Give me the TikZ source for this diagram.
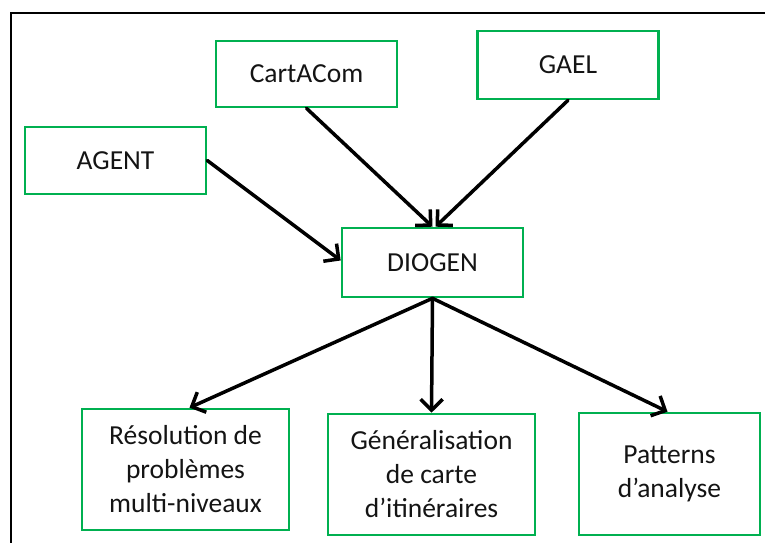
\documentclass[tikz,border=0pt]{standalone}
\usepackage{fontspec}
\setmainfont{Carlito}
\usepackage{xcolor}
\usepackage{tikz}
\usetikzlibrary{arrows.meta,positioning}
\definecolor{boxgreen}{RGB}{0,176,80}
\definecolor{txtblack}{RGB}{20,20,20}
\tikzset{
  blk/.style={draw=boxgreen,line width=2.6pt,fill=white,
              minimum width=181pt,minimum height=67pt,
              font=\fontsize{27.5}{34}\selectfont,text=txtblack,
              align=center,inner sep=2pt},
  blkwide/.style={blk,minimum width=207pt,minimum height=121pt},
  blktall/.style={blk,minimum height=122pt},
  arr/.style={-{Straight Barb[length=11pt,width=22pt,line width=3.5pt]},
              line width=3.5pt,line cap=round,color=black},
  frame/.style={draw=black,line width=2.6pt},
}
\begin{document}
\begin{tikzpicture}[x=1pt,y=-1pt]
  \useasboundingbox (0,0) rectangle (765,543);
  \draw[frame] (765,13) -- (11,13) -- (11,543);

  \node[blk,minimum height=66pt] (CA) at (306.5,74)  {CartACom};
  \node[blk,minimum height=68pt] (GL) at (568,65)    {GAEL};
  \node[blk]                     (AG) at (115.5,160.5){AGENT};
  \node[blk,minimum height=69pt] (DG) at (432.5,262.5){DIOGEN};
  \node[blkwide] (RP) at (185.5,469.5){Résolution de\\problèmes\\multi-niveaux};
  \node[blkwide] (GC) at (431.5,474.5){Généralisation\\de carte\\d’itinéraires};
  \node[blktall] (PA) at (669.5,474)  {Patterns\\d’analyse};

  \draw[arr](AG.east)  -- ([yshift=2pt]DG.west);
  \draw[arr](CA.south) -- (DG.north);
  \draw[arr](GL.south) -- ([xshift=3pt]DG.north);
  \draw[arr](DG.south) -- ([xshift=4pt]RP.north);
  \draw[arr](DG.south) -- (GC.north);
  \draw[arr](DG.south) -- ([xshift=-2pt]PA.north);
\end{tikzpicture}
\end{document}
